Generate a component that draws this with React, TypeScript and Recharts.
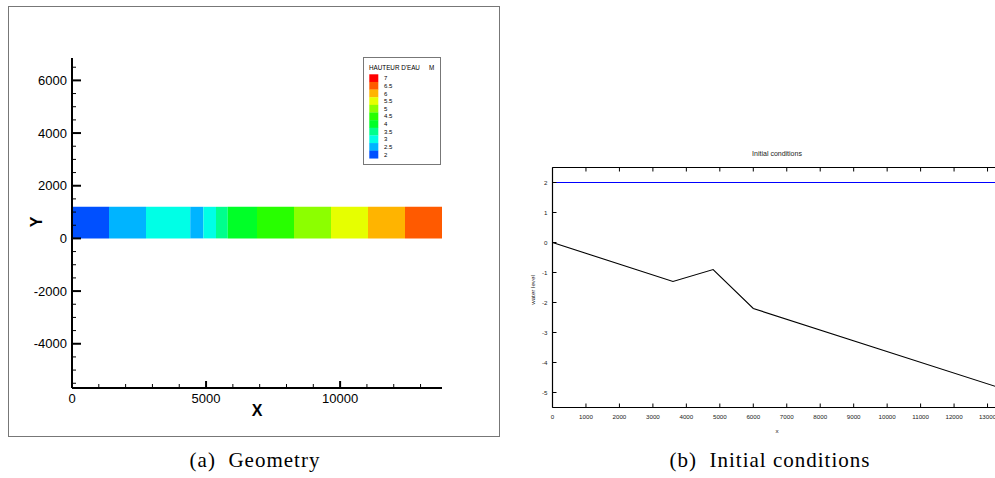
import React from 'react';
import { ComposedChart, Line, XAxis, YAxis, ReferenceArea } from 'recharts';

const SANS = '"Liberation Sans", Arial, Helvetica, sans-serif';
const SERIF = '"Liberation Serif", "Times New Roman", serif';

// channel reach, coloured by water depth (m)
const bandStart = [0, 1380, 2760, 4410, 4900, 5370, 5810, 6900, 8280, 9660, 11040, 12420];
const bandEnd = [1380, 2760, 4410, 4900, 5370, 5810, 6900, 8280, 9660, 11040, 12420, 13800];
const bandDepth = [2, 2.5, 3, 2.5, 3, 3.5, 4, 4.5, 5, 5.5, 6, 6.5];
const channelBottom = 0;
const channelTop = 1200;

// contour legend, top to bottom
const depthLevels = [7, 6.5, 6, 5.5, 5, 4.5, 4, 3.5, 3, 2.5, 2];
const depthColors = [
  '#ff0000', '#ff5a00', '#ffb400', '#e6ff00', '#8cff00', '#28ff00',
  '#00ff28', '#00ff8c', '#00ffe6', '#00b4ff', '#0050ff',
];

const geoXTicks = [0, 1000, 2000, 3000, 4000, 5000, 6000, 7000, 8000, 9000, 10000, 11000, 12000, 13000];
const geoXLabels = [0, 5000, 10000];
const geoYTicks = [
  -5500, -5000, -4500, -4000, -3500, -3000, -2500, -2000, -1500, -1000, -500, 0,
  500, 1000, 1500, 2000, 2500, 3000, 3500, 4000, 4500, 5000, 5500, 6000, 6500,
];
const geoYLabels = [-4000, -2000, 0, 2000, 4000, 6000];

// initial conditions: bed profile and free surface
const bedX = [0, 3600, 4800, 6000, 13800];
const bedLevel = [0, -1.3, -0.9, -2.2, -5.0];
const surfaceX = [0, 13800];
const surfaceLevel = [2, 2];
const icXTicks = [0, 1000, 2000, 3000, 4000, 5000, 6000, 7000, 8000, 9000, 10000, 11000, 12000, 13000, 14000];
const icYTicks = [-5, -4, -3, -2, -1, 0, 1, 2];

const colorOf = (d: number) => depthColors[depthLevels.indexOf(d)];

const bands = bandStart.map((x, i) => ({ x, x2: bandEnd[i], depth: bandDepth[i] }));
const bed = bedX.map((x, i) => ({ x, z: bedLevel[i] }));
const surface = surfaceX.map((x, i) => ({ x, z: surfaceLevel[i] }));

function GeoXTick(props: any) {
  const { x, y, payload } = props;
  const major = geoXLabels.includes(payload.value);
  return (
    <g>
      <line x1={x} x2={x} y1={y} y2={y - (major ? 7 : 4)} stroke="#000" strokeWidth={major ? 2 : 1} />
      {major && (
        <text x={x} y={y + 15} textAnchor="middle" fontSize={13} fontFamily={SANS} fill="#000">
          {payload.value}
        </text>
      )}
    </g>
  );
}

function GeoYTick(props: any) {
  const { x, y, payload } = props;
  const major = geoYLabels.includes(payload.value);
  return (
    <g>
      <line x1={x} x2={x + (major ? 9 : 4)} y1={y} y2={y} stroke="#000" strokeWidth={major ? 2 : 1} />
      {major && (
        <text x={x - 5} y={y} dy="0.36em" textAnchor="end" fontSize={13} fontFamily={SANS} fill="#000">
          {payload.value}
        </text>
      )}
    </g>
  );
}

function IcXTick(props: any) {
  const { x, y, payload } = props;
  return (
    <g>
      <line x1={x} x2={x} y1={y} y2={y - 4} stroke="#000" strokeWidth={1} />
      <text x={x} y={y + 11} textAnchor="middle" fontSize={6.2} fontFamily={SANS} fill="#222">
        {payload.value}
      </text>
    </g>
  );
}

function IcTopTick(props: any) {
  const { x, y } = props;
  return <line x1={x} x2={x} y1={y} y2={y + 4} stroke="#000" strokeWidth={1} />;
}

function IcYTick(props: any) {
  const { x, y, payload } = props;
  return (
    <g>
      <line x1={x} x2={x + 4} y1={y} y2={y} stroke="#000" strokeWidth={1} />
      <text x={x - 5} y={y} dy="0.36em" textAnchor="end" fontSize={6.2} fontFamily={SANS} fill="#222">
        {payload.value}
      </text>
    </g>
  );
}

function DepthLegend() {
  const sw = 7.64;
  return (
    <svg width={78} height={108} style={{ position: 'absolute', left: 363, top: 57 }}>
      <rect x={0.5} y={0.5} width={77} height={107} fill="#fff" stroke="#777" />
      <text x={6} y={12.5} fontSize={6.3} fontFamily={SANS} fill="#000">HAUTEUR D'EAU</text>
      <text x={66} y={12.5} fontSize={6.3} fontFamily={SANS} fill="#000">M</text>
      {depthLevels.map((d, i) => (
        <g key={d}>
          <rect x={6.3} y={17.3 + i * sw} width={9} height={sw + 0.2} fill={depthColors[i]} />
          <text x={21} y={17.3 + i * sw + sw / 2} dy="0.36em" fontSize={6} fontFamily={SANS} fill="#000">
            {d}
          </text>
        </g>
      ))}
    </svg>
  );
}

function GeometryChart() {
  return (
    <div style={{ position: 'absolute', left: 0, top: 0 }}>
      <div
        style={{
          position: 'absolute', left: 8, top: 6, width: 490, height: 429,
          border: '1px solid #777', background: '#fff',
        }}
      />
      <div style={{ position: 'absolute', left: 0, top: 0 }}>
        <ComposedChart width={500} height={440} data={bands} margin={{ top: 58, left: 0, right: 58, bottom: 0 }}>
          <XAxis
            type="number" dataKey="x" domain={[0, 13800]} allowDataOverflow height={52}
            ticks={geoXTicks} interval={0} tickSize={0} tickMargin={0} tickLine={false}
            axisLine={{ stroke: '#000', strokeWidth: 2 }} tick={<GeoXTick />}
          />
          <YAxis
            type="number" domain={[-5680, 6850]} allowDataOverflow width={72}
            ticks={geoYTicks} interval={0} tickSize={0} tickMargin={0} tickLine={false}
            axisLine={{ stroke: '#000', strokeWidth: 2 }} tick={<GeoYTick />}
          />
          {bands.map((b) => (
            <ReferenceArea
              key={b.x} x1={b.x} x2={b.x2} y1={channelBottom} y2={channelTop}
              fill={colorOf(b.depth)} fillOpacity={1} stroke="none" ifOverflow="visible"
            />
          ))}
        </ComposedChart>
      </div>
      <DepthLegend />
      <svg width={500} height={440} style={{ position: 'absolute', left: 0, top: 0, pointerEvents: 'none' }}>
        <text x={257} y={416} textAnchor="middle" fontSize={16} fontWeight="bold" fontFamily={SANS}>X</text>
        <text
          x={36} y={222} textAnchor="middle" dy="0.36em" fontSize={16} fontWeight="bold" fontFamily={SANS}
          transform="rotate(-90 36 222)"
        >
          Y
        </text>
      </svg>
    </div>
  );
}

function InitialConditionsChart() {
  return (
    <div style={{ position: 'absolute', left: 480, top: 0 }}>
      <ComposedChart width={560} height={440} margin={{ top: 0, left: 0, right: 19, bottom: 0 }}>
        <XAxis
          type="number" dataKey="x" domain={[0, 14000]} allowDataOverflow height={32.5}
          ticks={icXTicks} interval={0} tickSize={0} tickMargin={0} tickLine={false}
          axisLine={{ stroke: '#000', strokeWidth: 1.2 }} tick={<IcXTick />}
        />
        <XAxis
          xAxisId="top" orientation="top" type="number" dataKey="x" domain={[0, 14000]} allowDataOverflow
          height={167.5} ticks={icXTicks} interval={0} tickSize={0} tickMargin={0} tickLine={false}
          axisLine={{ stroke: '#000', strokeWidth: 1.2 }} tick={<IcTopTick />}
        />
        <YAxis
          type="number" domain={[-5.5, 2.5]} allowDataOverflow width={72.5}
          ticks={icYTicks} interval={0} tickSize={0} tickMargin={0} tickLine={false}
          axisLine={{ stroke: '#000', strokeWidth: 1.2 }} tick={<IcYTick />}
        />
        <Line
          data={surface} dataKey="z" type="linear" stroke="#0000ff" strokeWidth={1.1}
          dot={false} isAnimationActive={false}
        />
        <Line
          data={bed} dataKey="z" type="linear" stroke="#000" strokeWidth={1.1}
          dot={false} isAnimationActive={false}
        />
      </ComposedChart>
      <svg width={560} height={440} style={{ position: 'absolute', left: 0, top: 0, pointerEvents: 'none' }}>
        <text x={297} y={156} textAnchor="middle" fontSize={7} fontFamily={SANS} fill="#222">Initial conditions</text>
        <text x={297} y={433} textAnchor="middle" fontSize={6.2} fontFamily={SANS} fill="#222">x</text>
        <text
          x={53} y={290} textAnchor="middle" dy="0.36em" fontSize={6.2} fontFamily={SANS} fill="#222"
          transform="rotate(-90 53 290)"
        >
          water level
        </text>
      </svg>
    </div>
  );
}

export default function App() {
  return (
    <div
      style={{
        position: 'absolute', left: 0, top: 0, width: 995, height: 478,
        overflow: 'hidden', background: '#fff',
      }}
    >
      <GeometryChart />
      <InitialConditionsChart />
      <div style={{ position: 'absolute', left: 0, top: 448, width: 510, textAlign: 'center', fontFamily: SERIF, fontSize: 21, letterSpacing: 1 }}>
        (a)&nbsp; Geometry
      </div>
      <div style={{ position: 'absolute', left: 515, top: 448, width: 510, textAlign: 'center', fontFamily: SERIF, fontSize: 21, letterSpacing: 1 }}>
        (b)&nbsp; Initial conditions
      </div>
    </div>
  );
}
